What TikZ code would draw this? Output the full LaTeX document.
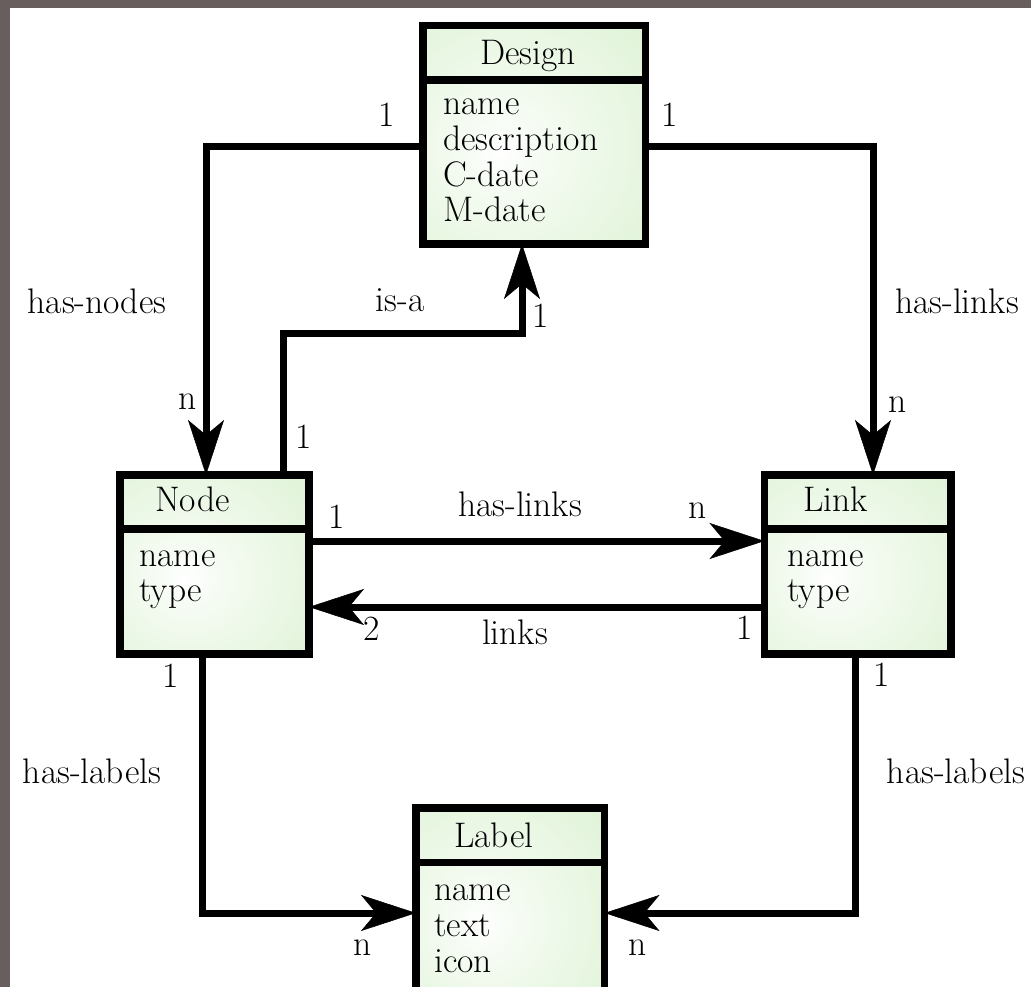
\documentclass[tikz,border=0pt]{standalone}
\usetikzlibrary{arrows.meta,calc}
\definecolor{framegray}{RGB}{104,94,94}
\definecolor{boxgreen}{RGB}{210,238,198}
\pgfdeclareradialshading{boxshade}{\pgfpoint{-8bp}{-4bp}}{color(0bp)=(white); color(8bp)=(white!80!boxgreen); color(58bp)=(boxgreen); color(80bp)=(boxgreen)}
\begin{document}
\begin{tikzpicture}[x=1pt,y=-1pt,
  every node/.style={font=\rmfamily\fontsize{35.5}{36}\selectfont},
  box/.style={draw=black, line width=7.5pt, inner sep=0pt, outer sep=0pt, shading=boxshade, rectangle},
  divider/.style={line width=7.5pt},
  conn/.style={line width=7pt, line join=miter},
  tip/.style={-{Stealth[length=55pt,width=36pt,inset=15pt,line width=0.5pt]}},
  lbl/.style={inner sep=0pt, anchor=center},
  attr/.style={inner sep=0pt, anchor=base west},
]
\useasboundingbox (0,0) rectangle (1031,987);
\clip (0,0) rectangle (1031,987);
\fill[framegray] (0,0) rectangle (1031,8);
\fill[framegray] (0,0) rectangle (10,987);

% boxes
\node[box, minimum width=222.5pt, minimum height=218.5pt] (design) at (534.25,134.75) {};
\node[box, minimum width=189pt, minimum height=179pt] (node) at (214.5,564.5) {};
\node[box, minimum width=186.5pt, minimum height=179pt] (link) at (857.75,564.5) {};
\node[box, minimum width=188.5pt, minimum height=200pt] (label) at (510.25,908) {};

\draw[divider] (design.west |- 0,80) -- (design.east |- 0,80);
\draw[divider] (node.west |- 0,529) -- (node.east |- 0,529);
\draw[divider] (link.west |- 0,529) -- (link.east |- 0,529);
\draw[divider] (label.west |- 0,862.5) -- (label.east |- 0,862.5);

% box texts
\node[attr] (dtitle) at (480,65) {Design};
\node[attr] (da1) at (443,115) {name};
\node[attr] (da2) at (443,151) {description};
\node[attr] (da3) at (443,187) {C-date};
\node[attr] (da4) at (443,222) {M-date};

\node[attr] (ntitle) at (155,511) {Node};
\node[attr] (na1) at (139,566) {name};
\node[attr] (na2) at (139,601) {type};

\node[attr] (ltitle) at (803,511) {Link};
\node[attr] (la1) at (787,566) {name};
\node[attr] (la2) at (787,601) {type};

\node[attr] (btitle) at (454,847) {Label};
\node[attr] (ba1) at (434,900) {name};
\node[attr] (ba2) at (434,936) {text};
\node[attr] (ba3) at (434,972) {icon};

% connectors
\coordinate (isa) at (522,333);
\draw[conn,tip] (design.west |- 0,147) -| (node.north -| 206,0);
\draw[conn,tip] (design.east |- 0,147) -| (link.north -| 873,0);
\draw[conn,tip] (node.north -| 283,0) |- (isa) -- (design.south -| isa);
\draw[conn,tip] (node.east |- 0,541) -- (link.west |- 0,541);
\draw[conn,tip] (link.west |- 0,607) -- (node.east |- 0,607);
\draw[conn,tip] (node.south -| 202,0) |- (label.west |- 0,913);
\draw[conn,tip] (link.south -| 855,0) |- (label.east |- 0,913);

% connector labels
\node[lbl] (c1) at (387,115) {1};
\node[lbl] (c2) at (670,115) {1};
\node[lbl] (c3) at (97,301) {has-nodes};
\node[lbl] (c4) at (188,402) {n};
\node[lbl] (c5) at (957,301) {has-links};
\node[lbl] (c6) at (898,405) {n};
\node[lbl] (c7) at (400,300) {is-a};
\node[lbl] (c8) at (541,316) {1};
\node[lbl] (c9) at (304,437) {1};
\node[lbl] (c10) at (520,504) {has-links};
\node[lbl] (c11) at (337,517) {1};
\node[lbl] (c12) at (698,511) {n};
\node[lbl] (c13) at (372,629) {2};
\node[lbl] (c14) at (515,632) {links};
\node[lbl] (c15) at (745,628) {1};
\node[lbl] (c16) at (171,676) {1};
\node[lbl] (c17) at (92,771) {has-labels};
\node[lbl] (c18) at (363,948) {n};
\node[lbl] (c19) at (882,675) {1};
\node[lbl] (c20) at (956,771) {has-labels};
\node[lbl] (c21) at (638,948) {n};
\end{tikzpicture}
\end{document}
